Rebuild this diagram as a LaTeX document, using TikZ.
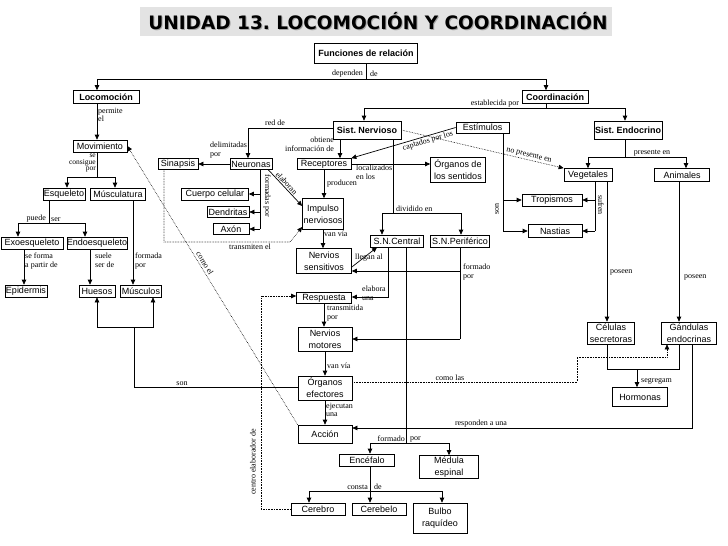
\documentclass[tikz,border=0pt]{standalone}
\usepackage{fontspec}
\setmainfont{Liberation Serif}
\setsansfont{Liberation Sans}
\newfontfamily\titlefont{DejaVu Sans}
\usetikzlibrary{arrows.meta}
\frenchspacing
\begin{document}
\frenchspacing
\begin{tikzpicture}[x=1pt,y=-1pt,
  box/.style={draw, font=\sffamily\fontsize{9}{12}\selectfont, inner sep=0pt, align=center, line width=0.7pt},
  bbox/.style={box, font=\sffamily\bfseries\fontsize{9}{12}\selectfont},
  wh/.style 2 args={minimum width=#1pt, minimum height=#2pt},
  lbl/.style={font=\fontsize{8}{8.5}\selectfont, inner sep=0pt, align=left},
  arr/.style={-{Triangle[length=5pt,width=4.5pt]}, line width=0.7pt},
  ln/.style={line width=0.7pt},
  dot/.style={densely dotted, line width=0.6pt},
  dotarr/.style={dot, -{Triangle[length=5pt,width=4.5pt]}}]
\useasboundingbox (0,0) rectangle (728,546);
% title
\fill[gray!22] (140,7) rectangle (612,36);
\node[font=\titlefont\bfseries\fontsize{18.5}{20}\selectfont, text=gray!70, inner sep=0pt] at (379,22.5) {UNIDAD 13. LOCOMOCIÓN Y COORDINACIÓN};
\node[font=\titlefont\bfseries\fontsize{18.5}{20}\selectfont, inner sep=0pt] (title) at (378,21.5) {UNIDAD 13. LOCOMOCIÓN Y COORDINACIÓN};
% nodes
\node[bbox, wh={103}{20}] (fun) at (366,53) {Funciones de relación};
\node[bbox, wh={66}{13}] (loc) at (106,97) {Locomoción};
\node[bbox, wh={66}{13}] (coord) at (555,97) {Coordinación};
\node[box, wh={54}{12}] (mov) at (100,146) {Movimiento};
\node[box, wh={42}{12}] (esq) at (64,194) {Esqueleto};
\node[box, wh={55}{12}] (mus) at (118,194) {Músculatura};
\node[box, wh={62}{12}] (exo) at (32,243) {Exoesqueleto};
\node[box, wh={60}{12}] (endo) at (97,243) {Endoesqueleto};
\node[box, wh={42}{12}] (epi) at (26,291) {Epidermis};
\node[box, wh={36}{12}] (hue) at (97,291) {Huesos};
\node[box, wh={41}{12}] (musc) at (141,291) {Músculos};
\node[box, wh={40}{11}] (sin) at (178,164) {Sinapsis};
\node[box, wh={42}{11}] (neu) at (251,164) {Neuronas};
\node[box, wh={67}{12}] (cue) at (215,194) {Cuerpo celular};
\node[box, wh={42}{11}] (den) at (228,212) {Dendritas};
\node[box, wh={36}{11}] (axo) at (231,229) {Axón};
\node[bbox, wh={68}{18}] (sn) at (367,130) {Sist. Nervioso};
\node[box, wh={54}{11}] (rec) at (324,164) {Receptores};
\node[box, wh={53}{11}] (est) at (482.5,127.5) {Estímulos};
\node[box, wh={55}{25}] (org) at (458,170) {Órganos de\\los sentidos};
\node[box, wh={41}{31}] (imp) at (323,214) {Impulso\\nerviosos};
\node[box, wh={53}{12}] (snc) at (397,241) {S.N.Central};
\node[box, wh={59}{12}] (snp) at (460,241) {S.N.Periférico};
\node[box, wh={55}{25}] (nsen) at (324,261) {Nervios\\sensitivos};
\node[box, wh={55}{11}] (resp) at (324,298) {Respuesta};
\node[box, wh={54}{24}] (nmot) at (325,339) {Nervios\\motores};
\node[box, wh={54}{24}] (oefe) at (325,388) {Órganos\\efectores};
\node[box, wh={54}{18}] (acc) at (325,434) {Acción};
\node[box, wh={55}{12}] (ence) at (367,460) {Encéfalo};
\node[box, wh={59}{23}] (med) at (449,467) {Médula\\espinal};
\node[box, wh={54}{12}] (cbr) at (318,509) {Cerebro};
\node[box, wh={54}{12}] (cbl) at (379,509) {Cerebelo};
\node[box, wh={54}{30}] (bul) at (440,518) {Bulbo\\raquídeo};
\node[bbox, wh={68}{18}] (send) at (628,130) {Sist. Endocrino};
\node[box, wh={48}{13}] (veg) at (588,175) {Vegetales};
\node[box, wh={55}{13}] (ani) at (682,175) {Animales};
\node[box, wh={60}{12}] (tro) at (552,200) {Tropismos};
\node[box, wh={54}{13}] (nas) at (555,231) {Nastias};
\node[box, wh={47}{22}] (cel) at (611,333) {Células\\secretoras};
\node[box, wh={55}{22}] (gla) at (689,333) {Gándulas\\endocrinas};
\node[box, wh={55}{19}] (hor) at (640,397) {Hormonas};
% top
\coordinate (jf) at (366,79);
\coordinate (jl) at (97,79);
\coordinate (jc) at (546,79);
\draw[ln] (fun.south) -- (jf);
\draw[ln] (jl) -- (jc);
\draw[arr] (jl) -- (jl |- loc.north);
\draw[arr] (jc) -- (jc |- coord.north);
\node[lbl, anchor=south east] at (363,77) {dependen};
\node[lbl, anchor=south west] at (370,77) {de};
% loc -> mov
\coordinate (a97) at (97,120);
\draw[arr] (a97 |- loc.south) -- (a97 |- mov.north);
\node[lbl, anchor=north west] at (98,108) {permite\\el};
% mov -> esq, mus
\coordinate (m1) at (97,177);
\draw[ln] (m1 |- mov.south) -- (m1);
\draw[arr] (m1) -| ([xshift=3pt]esq.north);
\draw[arr] (m1) -| ([xshift=-3pt]mus.north);
\node[lbl, anchor=north east, align=right, font=\fontsize{7.5}{6.8}\selectfont] at (96,153.5) {se\\consigue\\por};
% esq -> exo, endo
\coordinate (e1) at (49,223);
\draw[ln] (e1 |- esq.south) -- (e1);
\draw[arr] (e1) -| ([xshift=-14pt]exo.north);
\draw[arr] (e1) -| ([xshift=-12pt]endo.north);
\node[lbl, anchor=south east] at (46,222) {puede};
\node[lbl, anchor=south west] at (51,222) {ser};
% lower left
\coordinate (x24) at (24,0);
\draw[arr] (x24 |- exo.south) -- (x24 |- epi.north);
\node[lbl, anchor=north west] at (25,253) {se forma\\a partir de};
\coordinate (x90) at (90,0);
\draw[arr] (x90 |- endo.south) -- (x90 |- hue.north);
\node[lbl, anchor=north west] at (95,253) {suele\\ser de};
\coordinate (x133) at (133,0);
\draw[arr] (x133 |- mus.south) -- (x133 |- musc.north);
\node[lbl, anchor=north west] at (135,253) {formada\\por};
% son
\coordinate (s1) at (134,387);
\coordinate (s2) at (134,327);
\draw[ln] (oefe.west |- s1) -- (s1) -- (s2);
\draw[arr] (s2) -| (hue.south);
\draw[arr] (s2) -| ([xshift=12pt]musc.south);
\node[lbl, anchor=south] at (182,386) {son};
% como el
\draw[dotarr] (acc.north west) -- node[lbl, sloped, above=2pt, pos=0.57]{como el} (mov.east);
% red de
\draw[arr] ([yshift=2pt]sn.west) -| ([xshift=-3pt]neu.north);
\node[lbl, anchor=south] at (275,126) {red de};
% delimitadas
\draw[arr] (neu.west) -- (sin.east);
\node[lbl, anchor=north west] at (210,142) {delimitadas\\por};
% obtiene
\coordinate (x340) at (340,0);
\draw[arr] (x340 |- sn.south) -- (x340 |- rec.north);
\node[lbl, anchor=north east, align=right] at (334,137) {obtiene\\información de};
% formadas por
\coordinate (x260) at (260,0);
\draw[ln] (x260 |- neu.south) -- (x260 |- axo.east);
\draw[arr] (x260 |- cue.east) -- (cue.east);
\draw[arr] (x260 |- den.east) -- (den.east);
\draw[arr] (x260 |- axo.east) -- (axo.east);
\node[lbl, rotate=-90] at (267,196) {formadas por};
% elaboran
\draw[arr] ([xshift=-4pt]neu.south east) -- node[lbl, sloped, above=1pt, pos=0.45]{elaboran} ([yshift=8pt]imp.west);
% transmiten el
\coordinate (t1) at (164,242);
\coordinate (t2) at (290,242);
\draw[dotarr] (t1 |- sin.south) -- (t1) -- (t2) -- ([yshift=-13pt]imp.west);
\node[lbl, anchor=north] at (250,244) {transmiten el};
% producen
\draw[arr] (rec.south) -- (rec.south |- imp.north);
\node[lbl, anchor=west] at (327,184) {producen};
% van via
\draw[arr] (imp.south) -- (imp.south |- nsen.north);
\node[lbl, anchor=west] at (324,234) {van vía};
% localizados
\draw[arr] (rec.east) -- (rec.east -| org.west);
\node[lbl, anchor=north west] at (356,165) {localizados\\en los};
% captados
\draw[arr] (est.west) -- node[lbl, sloped, below=1pt, pos=0.28]{captados por los} (rec.north east);
% no presente en
\draw[dotarr] (sn.east) -- node[lbl, sloped, above=1pt, pos=0.78]{no presente en} (veg.north west);
% establecida
\coordinate (c1) at (546,108);
\draw[ln] (c1 |- coord.south) -- (c1);
\draw[arr] (c1) -| ([xshift=-3pt]sn.north);
\draw[arr] (c1) -| ([xshift=-3pt]send.north);
\node[lbl, anchor=south] at (495,107) {establecida por};
% presente en
\coordinate (p1) at (625,157);
\draw[ln] (p1 |- send.south) -- (p1);
\draw[arr] (p1) -| (veg.north);
\draw[arr] (p1) -| ([xshift=4pt]ani.north);
\node[lbl, anchor=south] at (652,156) {presente en};
% sufren
\coordinate (x595) at (595,0);
\draw[ln] (x595 |- veg.south) -- (x595 |- nas.east);
\draw[arr] (x595 |- tro.east) -- (tro.east);
\draw[arr] (x595 |- nas.east) -- (nas.east);
\node[lbl, rotate=-90] at (601,205) {sufren};
% son (estimulos)
\coordinate (x503) at (503,0);
\draw[ln] (x503 |- est.south) -- (x503 |- nas.west);
\draw[arr] (x503 |- tro.west) -- (tro.west);
\draw[arr] (x503 |- nas.west) -- (nas.west);
\node[lbl, rotate=90] at (497,209) {son};
% poseen
\coordinate (x607) at (607,0);
\draw[arr] (x607 |- veg.south) -- (x607 |- cel.north);
\node[lbl, anchor=west] at (610,272) {poseen};
\coordinate (x679) at (679,0);
\draw[arr] (x679 |- ani.south) -- (x679 |- gla.north);
\node[lbl, anchor=west] at (684,277) {poseen};
% dividido en
\coordinate (d1) at (393,213);
\draw[ln] (d1 |- sn.south) -- (d1);
\draw[arr] (d1) -| ([xshift=-15pt]snc.north);
\draw[arr] (d1) -| ([xshift=1pt]snp.north);
\node[lbl, anchor=south west] at (396,212) {dividido en};
% llegan al
\draw[arr] ([yshift=-6pt]nsen.east) -- ([xshift=-20pt]snc.south);
\node[lbl, anchor=west] at (355,258) {llegan al};
% formado por (SNP)
\coordinate (x460) at (460,0);
\coordinate (f1) at (460,271);
\draw[ln] (x460 |- snp.south) -- (x460 |- nmot.east);
\draw[arr] (f1) -- (f1 -| nsen.east);
\draw[arr] (x460 |- nmot.east) -- (nmot.east);
\node[lbl, anchor=north west] at (463,264) {formado\\por};
% elabora una
\coordinate (r1) at (388,297);
\draw[arr] (r1 |- snc.south) -- (r1) -- (r1 -| resp.east);
\node[lbl, anchor=north west] at (362,286) {elabora\\una};
% formado por (SNC)
\coordinate (g1) at (406,443);
\draw[ln] (g1 |- snc.south) -- (g1);
\draw[arr] (g1) -| ([xshift=3pt]ence.north);
\draw[arr] (g1) -| (med.north);
\node[lbl, anchor=south east] at (405,442) {formado};
\node[lbl, anchor=south west] at (410,442) {por};
% transmitida por
\draw[arr] (resp.south) -- (resp.south |- nmot.north);
\node[lbl, anchor=north west] at (327,305) {transmitida\\por};
% van via 2
\draw[arr] (nmot.south) -- (nmot.south |- oefe.north);
\node[lbl, anchor=west] at (327,366) {van vía};
% ejecutan una
\draw[arr] (oefe.south) -- (oefe.south |- acc.north);
\node[lbl, anchor=north west, font=\fontsize{8}{7.5}\selectfont] at (326,403) {ejecutan\\una};
% como las
\coordinate (k1) at (577,382);
\coordinate (k2) at (577,357);
\coordinate (k3) at (667,357);
\draw[dotarr] ([yshift=6pt]oefe.east) -- (k1) -- (k2) -- (k3) -- (k3 |- gla.south);
\node[lbl, anchor=south] at (450,381) {como las};
% segregan
\coordinate (h1) at (607,369);
\coordinate (h2) at (679,369);
\coordinate (h3) at (637,369);
\draw[ln] (h1 |- cel.south) -- (h1) -- (h2) -- (h2 |- gla.south);
\draw[arr] (h3) -- (h3 |- hor.north);
\node[lbl, anchor=west] at (641,381) {segregam};
% responden
\coordinate (q1) at (692,428);
\draw[arr] (q1 |- gla.south) -- (q1) -- (q1 -| acc.east);
\node[lbl, anchor=south] at (481,427) {responden a una};
% consta de
\coordinate (n1) at (370,491);
\draw[ln] (n1 |- ence.south) -- (n1);
\draw[arr] (n1) -| ([xshift=-9pt]cbr.north);
\draw[arr] (n1) -- (n1 |- cbl.north);
\draw[arr] (n1) -| ([xshift=2pt]bul.north);
\node[lbl, anchor=south east] at (368,490) {consta};
\node[lbl, anchor=south west] at (374,490) {de};
% centro elaborador
\coordinate (u1) at (261,509);
\coordinate (u2) at (261,296);
\draw[dotarr] (cbr.west) -- (u1) -- (u2) -- (u2 -| resp.west);
\node[lbl, rotate=90] at (253,462) {centro elaborador de};
\end{tikzpicture}
\end{document}
